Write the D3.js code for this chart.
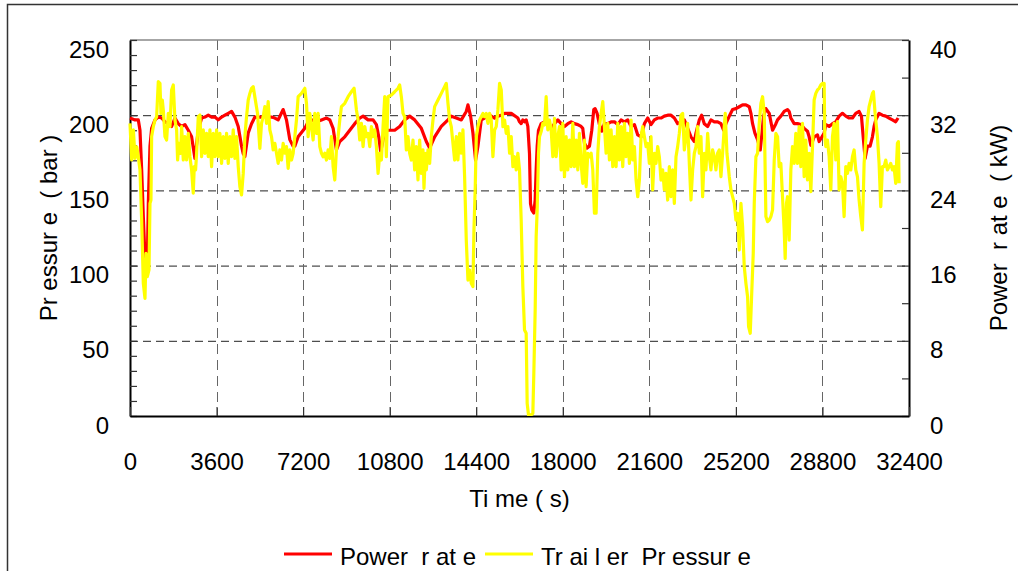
<!DOCTYPE html>
<html>
<head>
<meta charset="utf-8">
<script src="https://cdn.jsdelivr.net/npm/d3@7"></script>
<style>
	body { margin: 0; background: #fff; }
	svg { display: block; font-family: "Liberation Sans", Arial, sans-serif; }
	.tick text { font-size: 24px; fill: #000; }
	.title { font-size: 24px; fill: #000; white-space: pre; }
</style>
</head>
<body>
<div id="chart"></div>
<script>
// x ticks (s) and y ticks
var timeTicks = [0, 3600, 7200, 10800, 14400, 18000, 21600, 25200, 28800, 32400];
var pressureTicks = [0, 50, 100, 150, 200, 250];
var powerTicks = [0, 8, 16, 24, 32, 40];

// Power rate (kW) : [time s, kW]
var powerRate = [
	[0,31.7],[208,31.5],[346,31.5],[415,30.4],[485,26.2],[554,21.2],[623,16.9],[665,15.5],[720,16.2],[762,22.6],
	[831,28.7],[900,30.6],[1039,31.5],[1177,31.8],[1316,31.7],[1454,31.3],[1593,31.1],[1731,30.8],[1870,31.7],[2008,31.1],
	[2147,30.8],[2285,31.0],[2424,30.4],[2562,29.7],[2701,27.4],[2839,30.4],[2978,31.7],[3116,31.8],[3255,32.0],[3393,31.8],
	[3532,31.8],[3670,31.5],[3809,31.8],[3947,32.0],[4086,32.2],[4224,32.4],[4363,31.8],[4501,30.8],[4640,28.7],[4709,27.9],
	[4778,27.6],[4917,30.1],[5055,31.1],[5194,31.8],
	[5332,31.8],[5470,31.8],[5609,32.0],[5747,31.8],[5886,31.8],[6024,31.7],[6163,31.5],[6370,32.6],[6509,31.5],[6647,29.4],
	[6786,28.7],[6855,28.7],[6994,29.7],[7271,30.6],[7409,31.3],[7617,31.5],[7755,31.3],[7963,31.5],[8171,31.7],[8309,31.5],
	[8448,30.6],[8586,28.3],[8725,29.2],[8933,29.7],[9141,30.4],[9348,31.1],[9556,31.7],[9694,31.9],[9902,31.5],[10110,31.5],
	[10248,31.0],[10345,29.7],[10428,28.1],[10525,29.4],[10622,30.4],[10733,30.4],
	[11009,30.4],[11216,30.8],[11424,31.5],[11632,31.9],[11840,31.5],[12117,30.6],[12324,29.2],[12463,28.5],[12671,29.7],[12948,30.8],
	[13225,31.5],[13363,31.9],[13571,31.7],[13779,31.5],[13986,32.4],[14056,33.1],[14166,31.9],[14263,30.1],[14374,27.2],[14471,28.7],
	[14610,31.5],[14748,31.7],[14887,32.0],[15025,31.9],[15164,31.7],[15302,31.9],[15441,32.0],[15579,32.2],[15856,32.2],[16133,31.7],
	[16201,31.3],[16270,31.1],[16339,31.5],[16409,31.3],[16478,31.5],[16547,30.8],[16616,27.9],[16658,22.6],[16713,21.9],[16796,21.6],
	[16852,23.0],[16893,26.2],[16935,28.7],[16990,30.4],[17101,31.1],[17240,31.3],[17378,31.0],[17517,30.6],[17655,31.1],[17794,31.5],
	[17932,31.1],[18071,30.8],[18209,31.1],[18348,31.3],[18486,31.1],[18625,31.0],[18763,30.8],[18832,30.6],[18902,29.0],[19012,28.5],
	[19109,28.7],[19206,30.4],[19289,32.6],[19345,32.7],[19428,32.2],[19525,31.0],[19622,30.3],[19733,31.1],[19871,31.1],[20010,31.3],
	[20148,31.3],[20287,31.0],[20425,31.5],[20564,31.3],[20702,31.5],[20841,30.8],[20979,31.0],[21118,29.9],[21256,29.7],[21325,30.4],
	[21395,31.1],[21533,31.7],
	[21670,31.0],[21809,31.5],[21947,31.7],[22086,31.7],[22224,31.9],[22363,32.0],[22501,32.0],[22640,31.7],[22778,31.1],[22917,31.3],
	[23055,31.5],[23194,30.6],[23332,29.7],[23471,29.2],[23540,30.1],[23678,31.5],[23775,32.0],[23886,31.1],[24025,30.8],[24163,31.5],
	[24302,31.3],[24440,31.3],[24579,31.1],[24689,30.4],[24786,31.1],[24925,31.9],[25063,32.6],[25202,32.7],[25340,32.9],[25479,33.1],
	[25617,33.1],[25756,32.9],[25825,32.2],[25894,31.1],[25991,30.1],[26102,29.4],[26213,28.3],[26268,29.7],[26351,31.9],[26448,32.7],
	[26587,32.2],[26725,30.4],[26864,31.1],
	[26932,31.5],[27070,31.9],[27209,32.4],[27347,32.6],[27416,32.4],[27486,31.7],[27624,31.1],[27763,31.1],[27901,31.0],[28040,30.6],
	[28178,30.3],[28247,29.7],[28317,28.8],[28386,29.2],[28455,29.7],[28594,29.9],[28663,29.2],[28732,29.5],[28871,30.1],[28940,31.0],
	[29078,30.8],[29217,31.1],[29355,31.3],[29494,31.9],[29632,32.2],[29771,31.9],[29909,31.7],[30048,31.7],[30186,32.2],[30325,32.4],
	[30422,31.9],[30505,29.4],[30574,27.4],[30671,28.7],[30782,28.7],[30879,29.7],[30948,30.8],[31017,31.5],[31156,32.2],[31294,32.0],
	[31433,31.9],[31571,31.7],[31710,31.5],[31848,31.3],[31945,31.7]
];

// Trailer Pressure (bar) : [time s, bar]
var trailerPressure = [
	[0,194.6],[70,170.2],[140,190.2],[210,171.3],[280,179.0],[346,172.4],[415,163.6],[485,130.3],[554,88.2],[623,78.2],
	[665,108.1],[720,92.6],[790,97.1],[831,141.4],[872,143.6],[900,185.8],[970,192.4],[1039,196.8],[1108,199.0],[1177,222.3],
	[1246,221.2],[1288,201.2],[1343,210.1],[1385,203.4],[1454,185.8],[1523,183.5],[1593,201.2],[1662,192.4],[1731,216.8],[1800,220.1],
	[1870,196.8],[1939,190.2],[1980,170.2],[2036,181.3],[2105,174.6],[2147,192.4],[2216,170.2],[2285,185.8],[2354,170.2],[2424,188.0],
	[2493,172.4],[2562,163.6],[2631,148.1],[2673,165.8],[2728,163.6],[2770,174.6],[2839,199.0],[2908,200.1],[2978,172.4],[3047,190.2],
	[3116,174.6],[3185,188.0],[3255,172.4],[3324,190.2],[3393,165.8],[3462,188.0],[3532,172.4],[3601,190.2],[3670,172.4],[3739,188.0],
	[3809,168.0],[3878,185.8],[3947,171.3],[4016,188.0],[4086,168.0],[4155,185.8],[4224,172.4],[4293,190.2],[4363,171.3],[4432,185.8],
	[4501,165.8],[4570,152.5],[4640,147.0],[4709,161.3],[4778,185.8],[4847,199.0],[4917,210.1],[4986,214.5],[5055,217.9],[5124,219.0],
	[5304,201.2],[5401,178.0],[5470,194.6],[5539,199.0],[5609,205.7],[5678,194.6],[5747,209.0],[5816,190.2],[5886,185.7],[5955,176.9],
	[6024,181.3],[6093,174.7],[6163,168.0],[6232,176.9],[6301,170.2],[6370,181.3],[6440,174.7],[6509,179.1],[6578,164.7],[6647,176.9],
	[6717,170.2],[6786,174.7],[6855,185.7],[6924,196.8],[6994,212.3],[7132,214.5],[7271,217.9],[7340,207.9],[7409,185.7],[7478,201.2],
	[7548,192.4],[7617,183.5],[7686,201.2],[7755,187.9],[7825,201.2],[7894,179.1],[7963,174.7],[8032,172.4],[8102,174.7],[8171,170.2],
	[8240,176.9],[8309,171.3],[8379,185.7],[8448,165.8],[8517,156.9],[8586,176.9],[8656,185.7],[8725,196.8],[8794,205.7],[8933,207.9],
	[9071,212.3],[9210,215.6],[9320,217.9],[9417,203.5],[9487,196.8],[9556,183.5],[9625,194.6],[9694,179.1],[9764,192.4],[9833,185.7],
	[9902,187.9],[9971,179.1],[10041,192.4],[10110,185.7],[10179,190.2],[10248,179.1],[10318,161.3],[10387,174.7],[10456,170.2],[10525,192.4],
	[10595,212.3],[10662,172.4],[10732,212.3],[10870,213.4],[11009,215.6],[11147,217.9],[11216,220.1],[11286,212.3],[11355,201.2],[11424,199.0],
	[11493,176.9],[11563,185.7],[11632,174.7],[11701,170.2],[11770,183.5],[11840,163.6],[11909,179.1],[11978,156.9],[12047,183.5],[12117,161.3],
	[12186,176.9],[12227,151.4],[12283,174.7],[12324,163.6],[12394,176.9],[12463,168.0],[12532,185.7],[12601,196.8],[12671,205.7],[12809,210.1],
	[12948,214.5],[13086,219.0],[13155,221.2],[13225,207.9],[13294,196.8],[13363,192.4],[13432,181.3],[13502,170.2],[13571,185.7],[13640,170.2],
	[13709,187.9],[13779,174.7],[13848,190.2],[13917,159.1],[13986,117.0],[14056,90.4],[14125,97.1],[14194,88.2],[14263,86.0],[14305,123.7],
	[14360,152.5],[14402,185.7],[14471,192.4],[14540,196.8],[14610,199.0],[14679,201.2],[14748,199.0],[14817,201.2],[14887,194.6],[14956,201.2],
	[15025,196.8],[15094,172.4],[15164,190.2],[15233,192.4],[15302,203.5],[15371,221.2],[15441,216.8],[15510,192.4],[15579,196.8],[15648,187.9],
	[15718,192.4],[15787,174.7],[15856,185.7],[15925,165.8],[15995,172.4],[16064,163.6],[16132,174.7],[16201,163.6],[16270,130.3],[16339,86.0],
	[16409,57.2],[16478,55.0],[16519,8.4],[16575,0.7],[16686,0.7],[16755,1.8],[16796,28.4],[16852,70.5],[16893,119.3],[16935,137.0],
	[16990,174.7],[17032,185.7],[17101,189.1],[17170,194.6],[17240,193.5],[17309,212.3],[17350,196.8],[17378,190.2],[17447,196.8],[17517,190.2],
	[17586,172.4],[17655,197.9],[17724,172.4],[17794,185.7],[17863,192.4],[17932,163.6],[18001,194.6],[18071,159.1],[18140,185.7],[18209,163.6],
	[18278,183.5],[18348,165.8],[18417,194.6],[18486,165.8],[18555,183.5],[18625,163.6],[18694,187.9],[18763,168.0],[18832,154.7],[18902,183.5],
	[18971,152.5],[19040,174.7],[19109,172.4],[19179,174.7],[19248,163.6],[19317,134.8],[19386,134.8],[19456,174.7],[19525,192.4],[19594,201.2],
	[19663,209.0],[19733,192.4],[19802,174.7],[19871,194.6],[19940,170.2],[20010,190.2],[20079,165.8],[20148,185.7],[20217,165.8],[20287,194.6],
	[20356,170.2],[20425,192.4],[20494,165.8],[20564,194.6],[20633,172.4],[20702,187.9],[20771,168.0],[20841,196.8],[20910,170.2],[20979,179.1],
	[21048,156.9],[21118,145.8],[21187,156.9],[21256,185.7],[21325,192.4],[21395,185.7],[21464,179.1],[21532,181.3],[21601,168.0],[21670,185.7],
	[21739,150.3],[21809,174.7],[21878,168.0],[21947,179.1],[22016,172.4],[22086,156.9],[22155,163.6],[22224,150.3],[22293,161.3],[22363,143.6],
	[22432,165.8],[22501,145.8],[22570,163.6],[22640,141.4],[22709,172.4],[22778,179.1],[22847,187.9],[22917,200.1],[22986,201.2],[23055,176.9],
	[23124,185.7],[23194,194.6],[23263,168.0],[23332,143.6],[23401,163.6],[23471,174.7],[23540,179.1],[23609,192.4],[23678,174.7],[23748,185.7],
	[23817,145.8],[23886,174.7],[23955,163.6],[24025,187.9],[24094,172.4],[24163,163.6],[24232,176.9],[24302,172.4],[24371,163.6],[24440,174.7],
	[24509,176.9],[24579,159.1],[24648,174.7],[24717,192.4],[24758,201.2],[24828,174.7],[24925,159.1],[24994,150.3],[25063,145.8],[25133,141.4],
	[25202,130.3],[25271,134.8],[25340,110.4],[25410,141.4],[25479,125.9],[25548,99.3],[25617,88.2],[25687,79.3],[25728,59.4],[25797,55.0],
	[25853,79.3],[25922,108.2],[25964,141.4],[26033,172.4],[26102,174.7],[26171,194.6],[26241,207.9],[26310,212.3],[26379,201.2],[26448,132.6],
	[26518,129.2],[26587,130.3],[26656,132.6],[26725,137.0],[26795,170.2],[26864,187.9],[26933,185.7],[27001,165.8],[27070,168.0],[27139,145.8],
	[27209,123.7],[27250,104.8],[27305,141.4],[27347,145.8],[27416,117.0],[27486,163.6],[27555,179.1],[27624,168.0],[27693,187.9],[27763,168.0],
	[27832,192.4],[27901,165.8],[27970,194.6],[28040,159.1],[28109,183.5],[28178,156.9],[28247,174.7],[28317,149.2],[28386,179.1],[28455,210.1],
	[28524,214.5],[28594,216.8],[28663,217.9],[28732,220.1],[28801,221.2],[28871,221.2],[28898,185.7],[28940,179.1],[29009,183.5],[29078,172.4],
	[29148,150.3],[29217,185.7],[29286,194.6],[29355,170.2],[29425,195.7],[29494,150.3],[29563,159.1],[29632,154.7],[29702,132.6],[29771,165.8],
	[29840,161.3],[29909,168.0],[29979,163.6],[30048,172.4],[30117,176.9],[30186,163.6],[30256,159.1],[30325,143.6],[30394,132.6],[30463,123.7],
	[30533,168.0],[30602,183.5],[30671,196.8],[30740,205.7],[30810,210.1],[30879,214.5],[30920,215.6],[30990,201.2],[31087,185.7],[31156,168.0],
	[31225,139.2],[31294,165.8],[31364,165.8],[31433,170.2],[31502,163.6],[31571,165.8],[31641,168.0],[31710,163.6],[31779,165.8],[31848,154.7],
	[31918,181.3],[31959,182.4],[31987,154.7]
];

var width = 1018, height = 571;
var margin = { top: 40, right: 109, bottom: 155, left: 130 };
var plotW = width - margin.left - margin.right;
var plotH = height - margin.top - margin.bottom;

var svg = d3.select("#chart").append("svg")
	.attr("width", width)
	.attr("height", height);

// outer frame (only left and top visible)
svg.append("path")
	.attr("d", "M7.5," + height + "V4.5H" + width)
	.attr("fill", "none")
	.attr("stroke", "#333")
	.attr("stroke-width", 1.5);

var g = svg.append("g").attr("transform", "translate(" + margin.left + "," + margin.top + ")");

var x = d3.scaleLinear().domain([0, 32400]).range([0, plotW]);
var yP = d3.scaleLinear().domain([0, 250]).range([plotH, 0]);
var yW = d3.scaleLinear().domain([0, 40]).range([plotH, 0]);

// grid
g.append("g").selectAll("line")
	.data(pressureTicks.filter(function(d){ return d > 0 && d < 250; }))
	.enter().append("line")
		.attr("x1", 0).attr("x2", plotW)
		.attr("y1", function(d){ return yP(d) + 0.5; })
		.attr("y2", function(d){ return yP(d) + 0.5; })
		.attr("stroke", "#222")
		.attr("stroke-dasharray", "8,5");

g.append("g").selectAll("line")
	.data(timeTicks.filter(function(d){ return d > 0 && d < 32400; }))
	.enter().append("line")
		.attr("y1", 0).attr("y2", plotH)
		.attr("x1", function(d){ return Math.round(x(d)) + 0.5; })
		.attr("x2", function(d){ return Math.round(x(d)) + 0.5; })
		.attr("stroke", "#666")
		.attr("stroke-dasharray", "10,6");

// top border
g.append("line")
	.attr("x1", 0).attr("x2", plotW)
	.attr("y1", 0).attr("y2", 0)
	.attr("stroke", "#888")
	.attr("stroke-width", 1.5);

// axes
var left = g.append("g")
	.call(d3.axisLeft(yP)
		.tickValues(d3.range(0, 251, 10))
		.tickSizeInner(-7).tickSizeOuter(0).tickPadding(21)
		.tickFormat(function(d){ return d % 50 === 0 ? d : ""; }));

var right = g.append("g")
	.attr("transform", "translate(" + plotW + ",0)")
	.call(d3.axisRight(yW)
		.tickValues(d3.range(0, 41, 4))
		.tickSizeInner(-7).tickSizeOuter(0).tickPadding(21)
		.tickFormat(function(d){ return d % 8 === 0 ? d : ""; }));

var bottom = g.append("g")
	.attr("transform", "translate(0," + plotH + ")")
	.call(d3.axisBottom(x)
		.tickValues(timeTicks)
		.tickFormat(d3.format("d"))
		.tickSizeInner(-9).tickSizeOuter(0).tickPadding(37));

[left, right, bottom].forEach(function(a){
	a.attr("font-size", null).attr("font-family", null);
	a.select(".domain").attr("stroke", "#000").attr("stroke-width", 2);
	a.selectAll(".tick line").attr("stroke", "#333").attr("stroke-width", 1.2);
});
left.selectAll(".tick text").attr("dy", "0.71em");
right.selectAll(".tick text").attr("dy", "0.71em");
bottom.selectAll(".tick text").attr("dy", "0.71em");

// series
var clip = svg.append("clipPath").attr("id", "plot-clip")
	.append("rect").attr("x", -2).attr("y", -2).attr("width", plotW + 4).attr("height", plotH + 2);

var powerLine = d3.line()
	.x(function(d){ return x(d[0]); })
	.y(function(d){ return yW(d[1]); });

var pressureLine = d3.line()
	.x(function(d){ return x(d[0]); })
	.y(function(d){ return yP(d[1]); });

var series = g.append("g").attr("clip-path", "url(#plot-clip)");

series.append("path")
	.datum(powerRate)
	.attr("d", powerLine)
	.attr("fill", "none")
	.attr("stroke", "#ff0000")
	.attr("stroke-width", 3.2)
	.attr("stroke-linejoin", "round");

series.append("path")
	.datum(trailerPressure)
	.attr("d", pressureLine)
	.attr("fill", "none")
	.attr("stroke", "#ffff00")
	.attr("stroke-width", 3.2)
	.attr("stroke-linejoin", "round");

// titles
svg.append("text")
	.attr("class", "title")
	.attr("x", margin.left + plotW / 2).attr("y", 507)
	.attr("text-anchor", "middle")
	.text("Ti me ( s)");

svg.append("text")
	.attr("class", "title")
	.attr("transform", "translate(57," + (margin.top + plotH / 2) + ") rotate(-90)")
	.attr("text-anchor", "middle")
	.text("Pr essur e  ( bar )");

svg.append("text")
	.attr("class", "title")
	.attr("transform", "translate(1007," + (margin.top + plotH / 2) + ") rotate(-90)")
	.attr("text-anchor", "middle")
	.text("Power  r at e  ( kW)");

// legend
var legend = [
	{ name: "Power  r at e", color: "#ff0000", x: 284 },
	{ name: "Tr ai l er  Pr essur e", color: "#ffff00", x: 485 }
];

var item = svg.append("g").selectAll("g")
	.data(legend)
	.enter().append("g")
		.attr("transform", function(d){ return "translate(" + d.x + ",554)"; });

item.append("line")
	.attr("x1", 0).attr("x2", 48)
	.attr("stroke", function(d){ return d.color; })
	.attr("stroke-width", 3);

item.append("text")
	.attr("class", "title")
	.attr("x", 56).attr("y", 11)
	.text(function(d){ return d.name; });
</script>
</body>
</html>
